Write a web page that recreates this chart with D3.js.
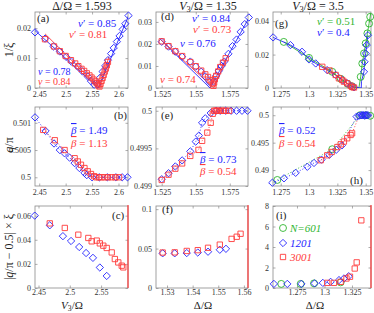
<!DOCTYPE html>
<html><head><meta charset="utf-8">
<script src="https://cdn.jsdelivr.net/npm/d3@7"></script>
<style>body{margin:0;background:#fff}svg{display:block}text{font-family:"Liberation Serif","Times New Roman",serif}</style>
</head><body><svg id="c" width="374" height="313"></svg>
<script>
// ---------- data ----------
const titles = ["Δ/Ω = 1.593", "V3/Ω = 1.35", "V3/Ω = 3.5"];
const seriesNames = ["N=601", "1201", "3001"];
// panel (a) 1/xi vs V3
const aBlue = [[2.442,0.0186],[2.461,0.0165],[2.477,0.0139],[2.489,0.0122],[2.501,0.0104],[2.511,0.0088],[2.523,0.0071],[2.532,0.0055],[2.542,0.0038],[2.548,0.0023],[2.554,0.0011],[2.560,0.0012],[2.565,0.0034],[2.570,0.0055],[2.575,0.0074],[2.580,0.0093],[2.586,0.0115],[2.591,0.0134],[2.597,0.0155],[2.602,0.0174],[2.608,0.0196],[2.613,0.0215],[2.619,0.0242]];
const aRed = [[2.461,0.0163],[2.478,0.0139],[2.489,0.0123],[2.500,0.0107],[2.510,0.0093],[2.518,0.0082],[2.524,0.0073],[2.530,0.0064],[2.535,0.0057],[2.540,0.0049],[2.545,0.0042],[2.549,0.0035],[2.553,0.0028],[2.556,0.0022],[2.559,0.0016],[2.562,0.0009],[2.564,0.0005],[2.566,0.0014],[2.568,0.0024],[2.570,0.0034],[2.572,0.0044],[2.574,0.0055],[2.576,0.0065],[2.578,0.0076],[2.580,0.0087]];
const aBlueFit = [[2.442,0.0192],[2.562,0],[2.621,0.0250]];
const aRedFit = [[2.461,0.0181],[2.564,0],[2.582,0.0105]];
// panel (d)
const dBlue = [[1.525,0.0210],[1.530,0.0188],[1.535,0.0165],[1.540,0.0142],[1.546,0.0120],[1.550,0.0097],[1.554,0.0074],[1.557,0.0052],[1.560,0.0028],[1.563,0.0030],[1.565,0.0055],[1.567,0.0078],[1.569,0.0100],[1.571,0.0120],[1.574,0.0155],[1.577,0.0190],[1.580,0.0220],[1.583,0.0255],[1.586,0.0290],[1.589,0.0320]];
const dRed = [[1.525,0.0212],[1.530,0.0190],[1.535,0.0167],[1.540,0.0145],[1.546,0.0118],[1.550,0.0099],[1.554,0.0079],[1.557,0.0062],[1.559,0.0050],[1.561,0.0035],[1.5625,0.0020],[1.563,0.0010],[1.5635,0.0025],[1.564,0.0040],[1.565,0.0055],[1.5665,0.0075],[1.568,0.0095],[1.570,0.0115],[1.572,0.0135]];
const dBlueFit = [[1.5245,0.0218],[1.5605,0],[1.5904,0.0333]];
const dRedFit = [[1.524,0.0222],[1.5632,0],[1.5735,0.0145]];
// panel (g)
const gBlue = [[1.2683,0.0303],[1.2836,0.0257],[1.2938,0.0217],[1.3000,0.0171],[1.3059,0.0147],[1.3160,0.0107],[1.3235,0.0078],[1.3293,0.0048],[1.3337,0.0028],[1.3370,0.0012],[1.3397,0.0004],[1.3485,0.0097],[1.3490,0.0157],[1.3500,0.0207],[1.3509,0.0257],[1.3520,0.0316]];
const gBlueLine = [[1.2683,0.0303],[1.2836,0.0257],[1.2938,0.0217],[1.3000,0.0171],[1.3059,0.0147],[1.3160,0.0107],[1.3235,0.0078],[1.3293,0.0048],[1.3337,0.0028],[1.3370,0.0012],[1.3397,0.0004],[1.3461,0],[1.3463,0.004],[1.3485,0.0097],[1.3490,0.0157],[1.3500,0.0207],[1.3509,0.0257],[1.3520,0.0316]];
const gGreen = [[1.2777,0.0276],[1.3000,0.0180],[1.3205,0.0097],[1.3280,0.0055],[1.3340,0.0025],[1.3380,0.0010],[1.3456,0.0067],[1.3470,0.0147],[1.3485,0.0207],[1.3500,0.0267],[1.3515,0.0327],[1.3530,0.0386],[1.3540,0.0426]];
const gGreenLine = [[1.2777,0.0276],[1.3000,0.0180],[1.3205,0.0097],[1.3280,0.0055],[1.3340,0.0025],[1.3380,0.0010],[1.3440,0],[1.3456,0.0067],[1.3470,0.0147],[1.3485,0.0207],[1.3500,0.0267],[1.3515,0.0327],[1.3530,0.0386],[1.3545,0.0450]];
const gRed = [[1.3117,0.0127],[1.3180,0.0105],[1.3235,0.0078],[1.3264,0.0058],[1.3293,0.0048],[1.3308,0.0038],[1.3337,0.0028],[1.3367,0.0014],[1.3380,0.0006],[1.3397,0.0003]];
// panel (b) q/pi
const bBlue = [[2.442,0.50110],[2.462,0.50085],[2.478,0.50062],[2.489,0.50050],[2.498,0.50044],[2.5075,0.50036],[2.517,0.50026],[2.526,0.50017],[2.5356,0.50008],[2.540,0.50004],[2.550,0.50000],[2.5637,0.5],[2.579,0.5],[2.595,0.5],[2.607,0.5],[2.617,0.5]];
const bRed = [[2.4575,0.50087],[2.4794,0.50068],[2.498,0.50050],[2.517,0.50035],[2.523,0.50029],[2.529,0.50023],[2.5356,0.50017],[2.5418,0.50011],[2.548,0.50006],[2.554,0.50002],[2.558,0.5],[2.563,0.5],[2.568,0.5],[2.574,0.5],[2.580,0.5],[2.587,0.5],[2.594,0.5],[2.601,0.5]];
// panel (e)
const eBlue = [[1.525,0.49909],[1.530,0.49917],[1.535,0.49926],[1.540,0.49934],[1.546,0.49946],[1.550,0.49959],[1.5523,0.49967],[1.5547,0.49984],[1.557,0.49990],[1.561,0.49997],[1.565,0.5],[1.568,0.5],[1.572,0.5],[1.576,0.5],[1.580,0.5],[1.584,0.5],[1.588,0.5]];
const eRed = [[1.525,0.49908],[1.530,0.49915],[1.535,0.49923],[1.540,0.49930],[1.546,0.49940],[1.552,0.49948],[1.5547,0.49960],[1.5585,0.49971],[1.561,0.49984],[1.5625,0.49996],[1.5635,0.5],[1.5645,0.5],[1.5655,0.5],[1.567,0.5],[1.5685,0.5],[1.570,0.5],[1.572,0.5],[1.5745,0.5]];
// panel (h)
const hBlue = [[1.2676,0.48769],[1.2779,0.4885],[1.2882,0.4895],[1.2985,0.4906],[1.3044,0.4913],[1.3110,0.4919],[1.3180,0.4928],[1.3240,0.4937],[1.3290,0.4945],[1.3420,0.49975],[1.3440,0.49990],[1.3460,0.5],[1.3470,0.5],[1.3480,0.5],[1.3490,0.49995],[1.3500,0.5],[1.3510,0.5],[1.3520,0.5]];
const hGreen = [[1.2720,0.4882],[1.3205,0.4938],[1.3450,0.5],[1.3500,0.5],[1.3540,0.4999]];
const hRed = [[1.3103,0.4918],[1.3161,0.4927],[1.3200,0.4933],[1.3250,0.4942],[1.3280,0.4947],[1.3308,0.4952],[1.3337,0.4958],[1.3367,0.4964],[1.3380,0.4967]];
const hRedLine = [[1.3103,0.4918],[1.3161,0.4927],[1.3200,0.4933],[1.3250,0.4942],[1.3280,0.4947],[1.3308,0.4952],[1.3337,0.4958],[1.3367,0.4964],[1.3380,0.4967],[1.3440,0.4998]];
// panel (c) |q/pi-0.5| * xi
const cBlue = [[2.444,0.060],[2.468,0.052],[2.489,0.043],[2.502,0.039],[2.515,0.034],[2.526,0.029],[2.537,0.025],[2.548,0.017],[2.559,0.010]];
const cRed = [[2.468,0.0536],[2.492,0.0498],[2.5136,0.0442],[2.5296,0.0415],[2.535,0.0387],[2.543,0.0393],[2.548,0.0370],[2.5535,0.0351],[2.559,0.0332],[2.567,0.0295],[2.572,0.0240],[2.5775,0.0212],[2.583,0.0185],[2.5855,0.0171]];
// panel (f)
const fBlue = [[1.5283,0.0440],[1.5330,0.0440],[1.5377,0.0443],[1.5420,0.0450],[1.5460,0.0460],[1.5506,0.0485],[1.5530,0.0497]];
const fRed = [[1.5283,0.0450],[1.5330,0.0452],[1.5377,0.0470],[1.5420,0.0480],[1.5460,0.0510],[1.5506,0.0550],[1.5552,0.0623],[1.5572,0.0650],[1.5587,0.0688]];
// panel (i)
const iGreen = [[1.2607,0.4],[1.2784,0.4],[1.2905,0.45],[1.3147,0.55]];
const iBlue = [[1.2540,0.4],[1.2662,0.4],[1.2790,0.4],[1.2910,0.45],[1.2985,0.5],[1.3056,0.6],[1.3132,0.77],[1.3177,0.93],[1.3220,1.15]];
const iRed = [[1.3025,0.5],[1.3086,0.5],[1.3147,0.6],[1.3200,0.93],[1.3232,1.1],[1.3275,1.9],[1.3293,2.5],[1.3335,6.6]];
// ticks
const xtA = [2.45,2.5,2.55,2.6], xtC = [2.45,2.5,2.55];
const xtD = [1.525,1.55,1.575], xtF = [1.53,1.54,1.55,1.56];
const xtG = [1.275,1.3,1.325,1.35], xtI = [1.275,1.3,1.325];
const ytA = [0,0.01,0.02], ytD = [0,0.01,0.02,0.03], ytG = [0,0.02,0.04];
const ytB = [0.5,0.5005,0.501], ytE = [0.499,0.4995,0.5], ytH = [0.49,0.495,0.5];
const ytC = [0,0.02,0.04,0.06], ytF = [0,0.05,0.1], ytI = [0,2,4,6,8];

// ---------- drawing ----------
const BLUE = "#2323ff", RED = "#ff3a3a", GREEN = "#2fb52f", AX = "#8a8a8a", TK = "#333";
const svg = d3.select("#c");
const cols = [[35,128],[156,248],[273,371]], rows = [[12,88],[107,186],[206,288]];
const SYM = { diamond: [d3.symbolDiamond2, 34], square: [d3.symbolSquare2, 36], circle: [d3.symbolCircle, 38] };
let clipN = 0;

function rich(g, x, y, segs, o) {
  o = o || {};
  const t = g.append("text").attr("x", x).attr("y", y)
    .attr("font-size", o.size || 11).attr("fill", o.color || "#222")
    .attr("text-anchor", o.anchor || "start");
  if (o.rotate) t.attr("transform", `rotate(${o.rotate},${x},${y})`);
  segs.forEach(s => {
    const sp = t.append("tspan").text(s.t);
    if (s.i) sp.attr("font-style", "italic");
    if (s.over) sp.attr("text-decoration", "overline");
    if (s.sub) sp.attr("font-size", (o.size || 11) * 0.7).attr("dy", 2);
    if (s.up) sp.attr("dy", -2);
  });
  return t;
}

function marker(g, data, x, y, type, color) {
  const [sym, size] = SYM[type];
  g.selectAll(null).data(data).enter().append("path")
    .attr("d", d3.symbol(sym, size))
    .attr("transform", d => `translate(${x(d[0])},${y(d[1])})`)
    .attr("fill", "none").attr("stroke", color).attr("stroke-width", 0.9);
}

function panel(o) {
  const [x0, x1] = cols[o.col], [y0, y1] = rows[o.row];
  const x = d3.scaleLinear().domain(o.xd).range([x0, x1]);
  const y = d3.scaleLinear().domain(o.yd).range([y1, y0]);
  const g = svg.append("g");
  const id = "cp" + (clipN++);
  svg.append("clipPath").attr("id", id).append("rect").attr("x", x0).attr("y", y0).attr("width", x1 - x0).attr("height", y1 - y0);
  g.append("rect").attr("x", x0).attr("y", y0).attr("width", x1 - x0).attr("height", y1 - y0)
    .attr("fill", "none").attr("stroke", AX).attr("stroke-width", 0.8);
  const style = ax => { ax.select(".domain").remove(); ax.selectAll(".tick line").attr("stroke", AX).attr("stroke-width", 0.7);
    ax.selectAll("text").attr("fill", TK).attr("font-size", 8).attr("font-family", '"Liberation Serif",serif'); };
  g.append("g").attr("transform", `translate(0,${y1})`).call(d3.axisBottom(x).tickValues(o.xt).tickFormat(String).tickSize(-2.5).tickPadding(o.row === 2 ? 1.5 : 3)).call(style);
  g.append("g").attr("transform", `translate(0,${y0})`).call(d3.axisTop(x).tickValues(o.xt).tickFormat("").tickSize(-2.5)).call(style);
  g.append("g").attr("transform", `translate(${x0},0)`).call(d3.axisLeft(y).tickValues(o.yt).tickFormat(String).tickSize(-2.5).tickPadding(4)).call(style);
  g.append("g").attr("transform", `translate(${x1},0)`).call(d3.axisRight(y).tickValues(o.yt).tickFormat("").tickSize(-2.5)).call(style);
  if (o.redRight) g.append("line").attr("x1", x1).attr("x2", x1).attr("y1", y0 - 1).attr("y2", y1).attr("stroke", RED).attr("stroke-width", 1.2);
  const lg = g.append("g").attr("clip-path", `url(#${id})`);
  (o.lines || []).forEach(l => {
    lg.append("path").attr("d", d3.line().x(d => x(d[0])).y(d => y(d[1]))(l.data))
      .attr("fill", "none").attr("stroke", l.color).attr("stroke-width", l.w || 0.9)
      .attr("stroke-dasharray", l.dash || null);
  });
  (o.series || []).forEach(s => marker(g, s.data, x, y, s.type, s.color));
  (o.texts || []).forEach(t => rich(g, t.x, t.y, t.segs, { color: t.color, size: t.size || 11 }));
  return { x, y, g };
}

const nu = (v, prime) => [{ t: "ν", i: 1 }, { t: (prime ? "′" : "") + " = " + v }];
const beta = v => [{ t: "β", i: 1, over: 1 }, { t: " = " + v }];
const DOT = "1,2";

// row 1
panel({ col: 0, row: 0, xd: [2.442, 2.618], yd: [0, 0.0254], xt: xtA, yt: ytA,
  lines: [{ data: aBlueFit, color: BLUE }, { data: aRedFit, color: RED }],
  series: [{ data: aBlue, type: "diamond", color: BLUE }, { data: aRed, type: "square", color: RED }],
  texts: [{ x: 37, y: 22, segs: [{ t: "(a)" }] },
    { x: 78, y: 27, segs: nu("0.85", 1), color: BLUE }, { x: 69, y: 38, segs: nu("0.81", 1), color: RED },
    { x: 38, y: 75, segs: nu("0.78"), color: BLUE, size: 10 }, { x: 38, y: 85, segs: nu("0.84"), color: RED, size: 10 }] });
panel({ col: 1, row: 0, xd: [1.5208, 1.5884], yd: [0, 0.0345], xt: xtD, yt: ytD,
  lines: [{ data: dBlueFit, color: BLUE }, { data: dRedFit, color: RED }],
  series: [{ data: dBlue, type: "diamond", color: BLUE }, { data: dRed, type: "square", color: RED }],
  texts: [{ x: 161, y: 20, segs: [{ t: "(d)" }] },
    { x: 192, y: 22, segs: nu("0.84", 1), color: BLUE }, { x: 193, y: 33, segs: nu("0.73", 1), color: RED },
    { x: 180, y: 47, segs: nu("0.76"), color: BLUE }, { x: 160, y: 83, segs: nu("0.74"), color: RED }] });
panel({ col: 2, row: 0, xd: [1.2682, 1.3547], yd: [0, 0.0455], xt: xtG, yt: ytG,
  lines: [{ data: gGreenLine, color: GREEN }, { data: gBlueLine, color: BLUE }, { data: gRed, color: RED }],
  series: [{ data: gGreen, type: "circle", color: GREEN }, { data: gBlue, type: "diamond", color: BLUE }, { data: gRed, type: "square", color: RED }],
  texts: [{ x: 275, y: 27, segs: [{ t: "(g)" }] },
    { x: 317, y: 25, segs: nu("0.51", 1), color: GREEN }, { x: 317, y: 36, segs: nu("0.4", 1), color: BLUE }] });
// row 2
panel({ col: 0, row: 1, xd: [2.442, 2.618], yd: [0.49984, 0.50129], xt: xtA, yt: ytB,
  lines: [{ data: bBlue, color: BLUE, dash: DOT }, { data: bRed, color: RED, dash: DOT }],
  series: [{ data: bBlue, type: "diamond", color: BLUE }, { data: bRed, type: "square", color: RED }],
  texts: [{ x: 114, y: 119, segs: [{ t: "(b)" }] },
    { x: 71, y: 134, segs: beta("1.49"), color: BLUE }, { x: 71, y: 147, segs: beta("1.13"), color: RED }] });
panel({ col: 1, row: 1, xd: [1.5208, 1.5884], yd: [0.499, 0.50005], xt: xtD, yt: ytE,
  lines: [{ data: eBlue, color: BLUE, dash: DOT }, { data: eRed, color: RED, dash: DOT }],
  series: [{ data: eBlue, type: "diamond", color: BLUE }, { data: eRed, type: "square", color: RED }],
  texts: [{ x: 161, y: 119, segs: [{ t: "(e)" }] },
    { x: 200, y: 163, segs: beta("0.73"), color: BLUE }, { x: 200, y: 175, segs: beta("0.54"), color: RED }] });
panel({ col: 2, row: 1, xd: [1.2682, 1.3547], yd: [0.4871, 0.5015], xt: xtG, yt: ytH,
  lines: [{ data: hBlue, color: BLUE, dash: DOT }, { data: hGreen, color: GREEN, dash: DOT }, { data: hRedLine, color: RED, dash: DOT }],
  series: [{ data: hGreen, type: "circle", color: GREEN }, { data: hBlue, type: "diamond", color: BLUE }, { data: hRed, type: "square", color: RED }],
  texts: [{ x: 350, y: 184, segs: [{ t: "(h)" }] },
    { x: 279, y: 134, segs: beta("0.52"), color: BLUE }, { x: 279, y: 147, segs: beta("0.54"), color: RED }] });
// row 3
panel({ col: 0, row: 2, xd: [2.4444, 2.593], yd: [0, 0.068], xt: xtC, yt: ytC, redRight: true,
  series: [{ data: cBlue, type: "diamond", color: BLUE }, { data: cRed, type: "square", color: RED }],
  texts: [{ x: 112, y: 219, segs: [{ t: "(c)" }] }] });
panel({ col: 1, row: 2, xd: [1.5257, 1.5616], yd: [0, 0.104], xt: xtF, yt: ytF, redRight: true,
  series: [{ data: fBlue, type: "diamond", color: BLUE }, { data: fRed, type: "square", color: RED }],
  texts: [{ x: 162, y: 213, segs: [{ t: "(f)" }] }] });
panel({ col: 2, row: 2, xd: [1.2532, 1.3423], yd: [0, 8], xt: xtI, yt: ytI, redRight: true,
  series: [{ data: iGreen, type: "circle", color: GREEN }, { data: iBlue, type: "diamond", color: BLUE }, { data: iRed, type: "square", color: RED }],
  texts: [{ x: 276, y: 219, segs: [{ t: "(i)" }] }] });
// legend in (i)
const legTypes = ["circle", "diamond", "square"], legCols = [GREEN, BLUE, RED], legY = [228, 243, 257];
seriesNames.forEach((n, k) => {
  const [sym, size] = SYM[legTypes[k]];
  svg.append("path").attr("d", d3.symbol(sym, size))
    .attr("transform", `translate(283,${legY[k]})`).attr("fill", "none").attr("stroke", legCols[k]).attr("stroke-width", 0.9);
  rich(svg, 290, legY[k] + 4, [{ t: n, i: 1 }], { color: legCols[k], size: 11 });
});

// titles
rich(svg, 82, 10, [{ t: titles[0] }], { anchor: "middle", size: 12 });
rich(svg, 208, 10, [{ t: "V", i: 1 }, { t: "3", sub: 1 }, { t: "/Ω = 1.35", up: 1 }], { anchor: "middle", size: 12 });
rich(svg, 318, 10, [{ t: "V", i: 1 }, { t: "3", sub: 1 }, { t: "/Ω = 3.5", up: 1 }], { anchor: "middle", size: 12 });
// y labels
rich(svg, 13, 50, [{ t: "1/ξ" }], { anchor: "middle", size: 12, rotate: -90 });
rich(svg, 13, 145, [{ t: "q", i: 1 }, { t: "/π" }], { anchor: "middle", size: 12, rotate: -90 });
rich(svg, 13, 247, [{ t: "|" }, { t: "q", i: 1 }, { t: "/π − 0.5| × ξ" }], { anchor: "middle", size: 12, rotate: -90 });
// x labels
rich(svg, 72, 309, [{ t: "V", i: 1 }, { t: "3", sub: 1 }, { t: "/Ω", up: 1 }], { anchor: "middle", size: 11 });
rich(svg, 203, 309, [{ t: "Δ/Ω" }], { anchor: "middle", size: 11 });
rich(svg, 315, 309, [{ t: "Δ/Ω" }], { anchor: "middle", size: 11 });
</script></body></html>
